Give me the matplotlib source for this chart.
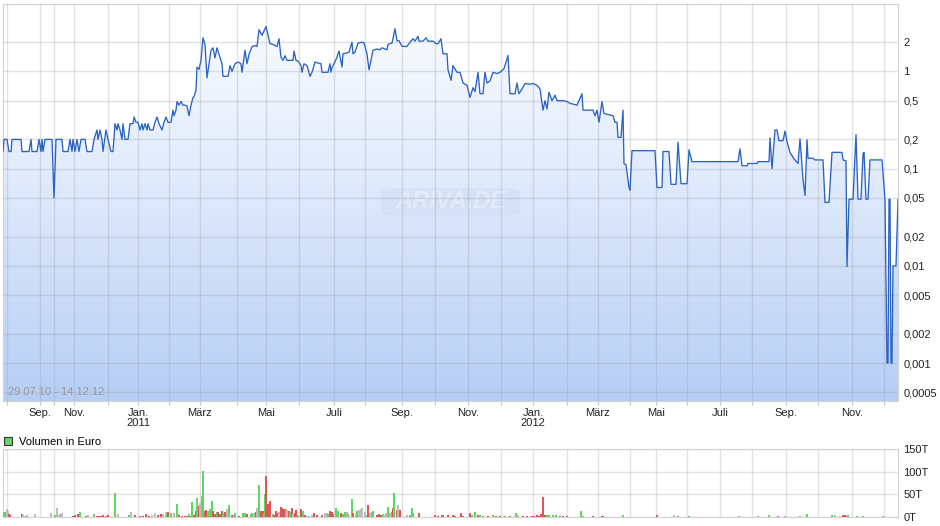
import numpy as np
import matplotlib
matplotlib.use('Agg')
import matplotlib.pyplot as plt
from matplotlib.patches import PathPatch, FancyBboxPatch, Patch
from matplotlib.ticker import NullLocator
from matplotlib.colors import LinearSegmentedColormap

plt.rcParams['font.family'] = ['Liberation Sans', 'DejaVu Sans']

# Kursverlauf: x = laufende Nummer des Kurspunktes im Chart (29.07.10 - 14.12.12)
kurs_tag = [0, 1, 4, 6, 8, 9, 18, 19, 26, 28, 29, 34, 36, 38, 39, 40, 42, 49, 51, 53,
            59, 60, 65, 67, 69, 70, 72, 74, 76, 78, 82, 84, 89, 91, 94, 95, 97, 99, 100, 103,
            105, 108, 110, 112, 114, 115, 117, 119, 120, 122, 125, 127, 130, 131, 133, 135, 137, 139, 140, 142,
            144, 145, 147, 150, 152, 154, 156, 159, 161, 163, 165, 168, 170, 171, 173, 174, 176, 178, 180, 182,
            184, 186, 188, 190, 191, 193, 194, 196, 198, 200, 202, 204, 206, 208, 210, 212, 214, 217, 219, 220,
            225, 227, 229, 232, 235, 238, 239, 242, 244, 246, 249, 252, 254, 256, 259, 263, 267, 270, 274, 276,
            278, 280, 282, 284, 290, 291, 293, 295, 298, 299, 301, 304, 307, 309, 312, 315, 318, 319, 325, 327,
            328, 329, 331, 334, 336, 339, 340, 344, 346, 349, 350, 352, 355, 359, 361, 364, 366, 368, 370, 374,
            377, 379, 384, 385, 389, 390, 392, 394, 396, 399, 404, 407, 410, 412, 415, 416, 420, 423, 425, 430,
            433, 435, 438, 440, 444, 445, 448, 450, 454, 457, 460, 464, 467, 470, 472, 475, 477, 480, 482, 484,
            487, 490, 494, 497, 501, 505, 507, 512, 514, 516, 519, 522, 527, 530, 534, 537, 540, 542, 544, 546,
            549, 552, 554, 560, 564, 567, 574, 579, 580, 590, 592, 594, 596, 599, 601, 610, 612, 614, 615, 618,
            620, 621, 623, 626, 627, 629, 652, 654, 659, 660, 666, 668, 673, 675, 678, 684, 686, 689, 735, 737,
            739, 744, 745, 754, 755, 766, 767, 769, 772, 774, 776, 780, 782, 784, 787, 791, 795, 797, 800, 802,
            804, 805, 810, 812, 820, 822, 826, 829, 839, 840, 843, 844, 846, 850, 853, 855, 858, 860, 861, 863,
            865, 867, 879, 882, 884, 885, 886, 887, 888, 889, 890, 893, 895]
kurs_wert = [0.15, 0.2, 0.2, 0.15, 0.15, 0.2, 0.2, 0.15, 0.15, 0.2, 0.15, 0.15, 0.2, 0.15, 0.2, 0.15, 0.2, 0.2, 0.05, 0.2,
             0.2, 0.15, 0.15, 0.2, 0.15, 0.2, 0.15, 0.2, 0.15, 0.2, 0.2, 0.15, 0.15, 0.2, 0.25, 0.2, 0.25, 0.2, 0.15, 0.25,
             0.2, 0.15, 0.15, 0.29, 0.25, 0.29, 0.25, 0.2, 0.29, 0.2, 0.2, 0.29, 0.29, 0.34, 0.3, 0.3, 0.25, 0.29, 0.25, 0.29,
             0.25, 0.29, 0.25, 0.25, 0.3, 0.34, 0.29, 0.25, 0.3, 0.34, 0.3, 0.3, 0.4, 0.35, 0.4, 0.49, 0.45, 0.49, 0.45, 0.45,
             0.44, 0.35, 0.45, 0.54, 0.55, 0.64, 1.11, 1.05, 1.3, 2.22, 1.9, 0.86, 1.2, 1.65, 1.75, 1.38, 1.75, 1.4, 1.2, 0.89,
             0.89, 1.15, 1.0, 1.2, 1.25, 1.2, 0.98, 1.65, 1.2, 1.5, 1.8, 1.85, 1.8, 2.69, 2.35, 2.9, 1.93, 1.9, 1.8, 2.17,
             1.4, 1.3, 1.45, 1.3, 1.3, 1.62, 1.3, 1.28, 1.15, 0.98, 1.2, 1.15, 0.89, 0.98, 1.25, 1.22, 1.2, 0.98, 0.98, 1.2,
             0.98, 1.1, 1.2, 1.4, 1.62, 1.11, 1.52, 1.55, 1.58, 2.0, 1.52, 1.58, 1.96, 2.0, 1.96, 1.52, 1.04, 1.3, 1.65, 1.7,
             1.67, 1.75, 1.67, 1.9, 1.96, 2.17, 2.75, 2.07, 2.07, 1.81, 1.81, 2.0, 2.17, 2.05, 2.3, 2.05, 2.05, 2.22, 2.05, 2.05,
             1.93, 1.93, 2.17, 1.52, 1.52, 1.04, 0.81, 1.15, 0.98, 0.98, 0.76, 0.72, 0.54, 0.68, 0.62, 0.98, 0.59, 0.59, 0.98, 0.76,
             0.8, 0.98, 0.95, 0.98, 1.07, 1.46, 0.59, 0.59, 0.76, 0.59, 0.66, 0.75, 0.74, 0.75, 0.72, 0.66, 0.40, 0.50, 0.41, 0.61,
             0.5, 0.57, 0.5, 0.5, 0.49, 0.47, 0.45, 0.59, 0.40, 0.4, 0.35, 0.4, 0.30, 0.49, 0.37, 0.35, 0.30, 0.30, 0.21, 0.21,
             0.40, 0.112, 0.11, 0.064, 0.06, 0.153, 0.153, 0.064, 0.064, 0.150, 0.150, 0.069, 0.069, 0.187, 0.07, 0.07, 0.156, 0.118, 0.118, 0.16,
             0.107, 0.107, 0.113, 0.113, 0.118, 0.118, 0.207, 0.10, 0.25, 0.25, 0.194, 0.194, 0.243, 0.19, 0.147, 0.126, 0.113, 0.202, 0.078, 0.053,
             0.198, 0.128, 0.128, 0.123, 0.123, 0.045, 0.045, 0.147, 0.147, 0.123, 0.12, 0.0098, 0.0485, 0.0485, 0.224, 0.0485, 0.0485, 0.142, 0.147, 0.0485,
             0.0485, 0.123, 0.123, 0.0485, 0.001, 0.001, 0.0485, 0.0485, 0.001, 0.001, 0.01, 0.01, 0.0485]

# Umsatz in Tausend Euro; Farbe: g = Kurs gestiegen, r = gefallen, n = unveraendert
vol_tag = [0, 2, 4, 5, 6, 7, 19, 20, 22, 24, 32, 48, 52, 54, 55, 57, 59, 70, 72, 75,
           77, 83, 85, 91, 94, 96, 98, 100, 103, 105, 112, 115, 126, 128, 132, 137, 140, 143, 146, 149,
           152, 155, 158, 160, 163, 164, 165, 168, 171, 174, 176, 179, 182, 184, 186, 188, 189, 191, 193, 194,
           196, 197, 199, 200, 202, 203, 205, 207, 209, 210, 212, 214, 215, 217, 219, 220, 222, 224, 225, 226,
           229, 231, 232, 236, 240, 242, 244, 248, 249, 251, 253, 254, 256, 258, 260, 261, 262, 263, 265, 267,
           270, 271, 273, 274, 276, 278, 279, 281, 283, 284, 286, 287, 289, 290, 292, 293, 295, 298, 300, 302,
           304, 306, 309, 311, 314, 319, 322, 324, 325, 327, 329, 330, 333, 335, 338, 340, 342, 344, 345, 349,
           350, 353, 354, 356, 358, 359, 362, 364, 365, 367, 369, 370, 374, 376, 378, 380, 381, 383, 385, 387,
           389, 390, 391, 394, 395, 397, 404, 407, 409, 410, 416, 432, 435, 439, 440, 445, 450, 452, 458, 460,
           467, 469, 472, 475, 477, 480, 485, 490, 493, 497, 502, 507, 513, 515, 520, 524, 529, 531, 534, 536,
           538, 540, 542, 544, 546, 550, 553, 557, 560, 564, 578, 580, 590, 599, 600, 620, 654, 671, 675, 686,
           736, 755, 766, 775, 782, 797, 804, 829, 832, 837, 840, 842, 844, 845, 854, 860, 880]
vol_teur = [11, 11, 17, 13, 6, 4, 6, 4, 2, 4, 6, 8, 4, 19, 4, 5, 8, 2, 4, 6,
            11, 2, 4, 6, 2, 2, 2, 4, 2, 4, 53, 6, 4, 10, 4, 2, 2, 6, 2, 4,
            8, 4, 5, 7, 11, 6, 11, 8, 8, 28, 4, 2, 2, 2, 6, 2, 33, 4, 13, 42,
            23, 30, 46, 101, 13, 15, 12, 18, 35, 13, 6, 11, 11, 7, 13, 8, 10, 17, 13, 26,
            4, 4, 8, 2, 8, 8, 5, 6, 8, 8, 11, 19, 71, 13, 13, 8, 51, 91, 28, 36,
            6, 4, 13, 8, 10, 22, 20, 17, 18, 15, 13, 11, 19, 6, 8, 15, 4, 18, 13, 4,
            2, 2, 4, 8, 4, 4, 8, 8, 6, 13, 10, 6, 19, 13, 8, 6, 11, 10, 6, 39,
            8, 5, 13, 15, 17, 19, 11, 4, 25, 8, 11, 13, 4, 6, 4, 6, 4, 8, 22, 8,
            11, 19, 53, 14, 25, 14, 4, 4, 19, 8, 8, 4, 2, 4, 4, 4, 4, 2, 8, 2,
            8, 4, 11, 4, 4, 2, 2, 4, 2, 2, 2, 2, 8, 4, 2, 2, 2, 2, 4, 2,
            6, 44, 4, 4, 4, 4, 4, 2, 2, 2, 13, 2, 2, 2, 2, 4, 4, 4, 2, 2,
            2, 2, 4, 2, 2, 2, 6, 4, 4, 2, 4, 4, 2, 4, 2, 2, 2]
vol_farbe = ('ggnnrrrnnnnngnnnnrrr'
             'grngrrrrrrgngnrrrrrn'
             'nrrnngrgngrrrrgrgrrg'
             'rnggrrgggrrgrrrgrnng'
             'rggrggrggnrngrrggrrr'
             'grrrnrrrgnrgrnrrgrgr'
             'nnnrrrnngrrrggrggngg'
             'rngnnnngrnggrrrgnngn'
             'grgrnrngggrrrrrrrrrr'
             'rggrggrgrrgrgnrrrrrr'
             'rrrggggrrrggrrrgrngg'
             'gggrggggnnrrrgggg')

monat_tag = [4, 37, 51, 71, 105, 135, 166, 197, 234, 263, 296, 331, 362, 399, 432,
             465, 498, 530, 564, 595, 627, 653, 684, 717, 749, 783, 815, 849, 881]
monat_text = ['', 'Sep.', '', 'Nov.', '', 'Jan.\n2011', '', 'März', '', 'Mai', '', 'Juli', '', 'Sep.', '',
              'Nov.', '', 'Jan.\n2012', '', 'März', '', 'Mai', '', 'Juli', '', 'Sep.', '', 'Nov.', '']

kurs_ticks = [2, 1, 0.5, 0.2, 0.1, 0.05, 0.02, 0.01, 0.005, 0.002, 0.001, 0.0005]
kurs_ticktext = ['2', '1', '0,5', '0,2', '0,1', '0,05', '0,02', '0,01', '0,005', '0,002', '0,001', '0,0005']
vol_ticks = [0, 50, 100, 150]
vol_ticktext = ['0T', '50T', '100T', '150T']

x_max = 895
y_min, y_max = 0.000407, 4.94
grid_col = '#9aa0aa'

fig = plt.figure(figsize=(9.4, 5.26), dpi=100)
ax = fig.add_axes([3 / 940, 1 - 401 / 526, 895 / 940, 397 / 526])
axv = fig.add_axes([3 / 940, 1 - 516.7 / 526, 895 / 940, 67.4 / 526])

# --- Kurschart ---
ax.set_yscale('log')
ax.set_xlim(0, x_max)
ax.set_ylim(y_min, y_max)
ax.set_autoscale_on(False)

cmap = LinearSegmentedColormap.from_list('flaeche', ['#b6cef5', '#dce8fb', '#fcfdff'])
grad = np.linspace(0, 1, 256).reshape(-1, 1)
im = ax.imshow(grad, extent=[0, 1, 0, 1], transform=ax.transAxes, origin='lower',
               cmap=cmap, aspect='auto', zorder=1, interpolation='bilinear')
poly = ax.fill_between(kurs_tag, kurs_wert, y_min, facecolor='none', edgecolor='none')
clip = PathPatch(poly.get_paths()[0], transform=ax.transData, facecolor='none', edgecolor='none')
ax.add_patch(clip)
im.set_clip_path(clip)

ax.plot(kurs_tag, kurs_wert, color='#2b63c4', lw=0.95, zorder=3)

ax.set_axisbelow(False)
ax.set_xticks(monat_tag)
ax.set_xticklabels(monat_text, fontsize=8, color='#222222', linespacing=1.05)
ax.set_yticks(kurs_ticks)
ax.set_yticklabels(kurs_ticktext, fontsize=8, color='#222222')
ax.yaxis.set_minor_locator(NullLocator())
ax.yaxis.tick_right()
ax.tick_params(axis='y', length=0, pad=4)
ax.tick_params(axis='x', length=3, color='#c8c8c8', pad=2)
ax.grid(True, color=grid_col, alpha=0.3, lw=1.0)
for sp in ax.spines.values():
    sp.set_color('#d2d2d2')

# Wasserzeichen
ax.add_patch(FancyBboxPatch((0.422, 0.468), 0.156, 0.068, boxstyle='round,pad=0,rounding_size=0.012',
                            transform=ax.transAxes, facecolor='#b8c8e2', edgecolor='none', alpha=0.2, zorder=2))
ax.text(0.5, 0.502, 'ARIVA.DE', transform=ax.transAxes, ha='center', va='center', fontsize=17,
        fontweight='bold', style='italic', color='white', alpha=0.35, zorder=2)
ax.text(0.006, 0.009, '29.07.10 - 14.12.12', transform=ax.transAxes, ha='left', va='bottom',
        fontsize=8, color='#9a9a9a', zorder=4)

# --- Volumen ---
farben = {'g': '#5fd65f', 'r': '#e05555', 'n': '#bdbdbd'}
axv.bar(vol_tag, vol_teur, width=1.4, color=[farben[c] for c in vol_farbe], zorder=3)
axv.set_xlim(0, x_max)
axv.set_ylim(0, 150)
axv.set_xticks(monat_tag)
axv.set_xticklabels([])
axv.set_yticks(vol_ticks)
axv.set_yticklabels(vol_ticktext, fontsize=8, color='#222222')
axv.yaxis.tick_right()
axv.tick_params(axis='both', length=0)
axv.tick_params(axis='y', pad=4)
axv.grid(True, color=grid_col, alpha=0.3, lw=1.0)
for sp in axv.spines.values():
    sp.set_color('#d2d2d2')
axv.legend(handles=[Patch(facecolor='#66d466', edgecolor='#333333', lw=0.8)], labels=['Volumen in Euro'],
           loc='lower left', bbox_to_anchor=(0.0, 1.02), frameon=False, fontsize=8,
           handlelength=0.75, handleheight=0.75, handletextpad=0.6, borderpad=0.1, borderaxespad=0.0)

fig.savefig('out.png', dpi=100)
